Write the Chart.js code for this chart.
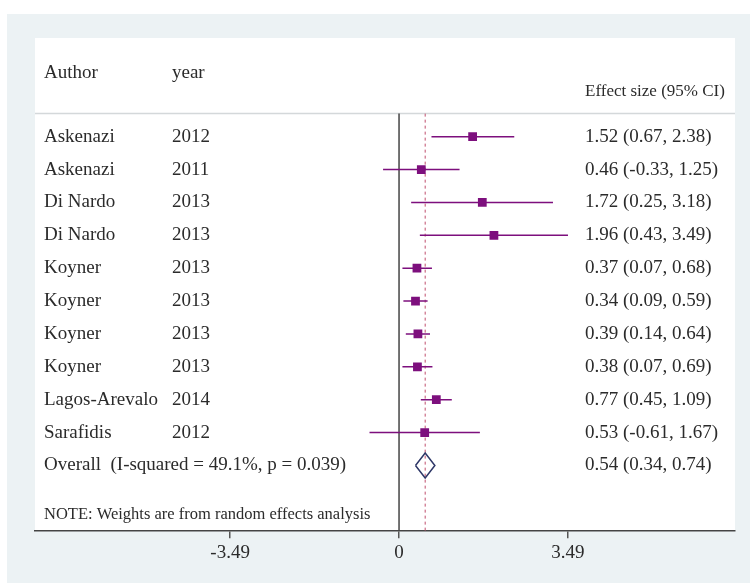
<!DOCTYPE html>
<html>
<head>
<meta charset="utf-8">
<title>Forest plot</title>
<script src="https://cdn.jsdelivr.net/npm/chart.js@4"></script>
<style>
  html, body { margin: 0; padding: 0; background: #fff; }
  #wrap { width: 750px; height: 583px; }
</style>
</head>
<body>
<div id="wrap"><canvas id="forest" width="750" height="583"></canvas></div>
<script>
// Study data
const authors = ['Askenazi', 'Askenazi', 'Di Nardo', 'Di Nardo', 'Koyner', 'Koyner', 'Koyner', 'Koyner', 'Lagos-Arevalo', 'Sarafidis'];
const years = ['2012', '2011', '2013', '2013', '2013', '2013', '2013', '2013', '2014', '2012'];
const effects = [1.52, 0.46, 1.72, 1.96, 0.37, 0.34, 0.39, 0.38, 0.77, 0.53];
const lower = [0.67, -0.33, 0.25, 0.43, 0.07, 0.09, 0.14, 0.07, 0.45, -0.61];
const upper = [2.38, 1.25, 3.18, 3.49, 0.68, 0.59, 0.64, 0.69, 1.09, 1.67];

const overallLabel = 'Overall  (I-squared = 49.1%, p = 0.039)';
const overallEffect = 0.54;
const overallLower = 0.34;
const overallUpper = 0.74;

const tickValues = [-3.49, 0, 3.49];
const tickLabels = ['-3.49', '0', '3.49'];

const noteText = 'NOTE: Weights are from random effects analysis';

// colours
const PURPLE = '#7d0f7d';
const TEXT = '#2b2b2b';
const SERIF = '"Liberation Serif", "DejaVu Serif", serif';

const overallRow = authors.length;   // row index of the overall estimate
const X_MIN = -7.52, X_MAX = 6.94;   // axis runs the full width of the panel
const Y_TOP = -0.7;                  // header rule

function fmt(v) {
    return v.toFixed(2);
}

/**
 * Draws the panel backgrounds and the text columns
 */
const forestText = {
    id: 'forestText',
    beforeDraw(chart) {
        const ctx = chart.ctx;
        const area = chart.chartArea;
        ctx.save();
        ctx.fillStyle = '#ffffff';
        ctx.fillRect(0, 0, chart.width, chart.height);
        ctx.fillStyle = '#ecf2f4';
        ctx.fillRect(7, 14, chart.width - 7, chart.height - 14);
        ctx.fillStyle = '#ffffff';
        ctx.fillRect(area.left, area.top, area.right - area.left, area.bottom - area.top);
        ctx.restore();
    },
    afterDraw(chart) {
        const ctx = chart.ctx;
        const ys = chart.scales.y;
        ctx.save();
        ctx.fillStyle = TEXT;
        ctx.textBaseline = 'middle';
        ctx.textAlign = 'left';

        // header
        ctx.font = '19px ' + SERIF;
        ctx.fillText('Author', 44, ys.getPixelForValue(-1.95));
        ctx.fillText('year', 172, ys.getPixelForValue(-1.95));
        ctx.font = '17px ' + SERIF;
        ctx.fillText('Effect size (95% CI)', 585, ys.getPixelForValue(-1.37));

        // study rows
        ctx.font = '19px ' + SERIF;
        authors.forEach((a, i) => {
            const y = ys.getPixelForValue(i);
            ctx.fillText(a, 44, y);
            ctx.fillText(years[i], 172, y);
            ctx.fillText(fmt(effects[i]) + ' (' + fmt(lower[i]) + ', ' + fmt(upper[i]) + ')', 585, y);
        });

        // overall row
        const yo = ys.getPixelForValue(overallRow);
        ctx.fillText(overallLabel, 44, yo);
        ctx.fillText(fmt(overallEffect) + ' (' + fmt(overallLower) + ', ' + fmt(overallUpper) + ')', 585, yo);

        // note
        ctx.font = '16.5px ' + SERIF;
        ctx.fillText(noteText, 44, ys.getPixelForValue(11.5));
        ctx.restore();
    }
};

// confidence interval lines, one dataset per study
const ciSets = authors.map((a, i) => ({
    type: 'scatter',
    label: a + ' ' + years[i],
    data: [{ x: lower[i], y: i }, { x: upper[i], y: i }],
    showLine: true,
    borderColor: PURPLE,
    borderWidth: 1.5,
    pointRadius: 0,
    order: 3
}));

const datasets = [
    {
        // study point estimates
        type: 'scatter',
        label: 'estimate',
        data: effects.map((e, i) => ({ x: e, y: i })),
        pointStyle: 'rect',
        pointRadius: 6.2,
        backgroundColor: PURPLE,
        borderColor: PURPLE,
        borderWidth: 0,
        order: 1
    },
    {
        // pooled estimate diamond
        type: 'scatter',
        label: 'overall',
        data: [
            { x: overallLower, y: overallRow },
            { x: overallEffect, y: overallRow - 0.38 },
            { x: overallUpper, y: overallRow },
            { x: overallEffect, y: overallRow + 0.38 },
            { x: overallLower, y: overallRow }
        ],
        showLine: true,
        borderColor: '#2f3868',
        borderWidth: 1.5,
        pointRadius: 0,
        order: 2
    },
    ...ciSets,
    {
        // overall effect reference line
        type: 'scatter',
        label: 'overall line',
        data: [{ x: overallEffect, y: Y_TOP }, { x: overallEffect, y: 12 }],
        showLine: true,
        borderColor: '#c0506e',
        borderWidth: 1,
        borderDash: [3, 3],
        pointRadius: 0,
        order: 4
    },
    {
        // null effect line
        type: 'scatter',
        label: 'zero',
        data: [{ x: 0, y: Y_TOP }, { x: 0, y: 12 }],
        showLine: true,
        borderColor: '#444444',
        borderWidth: 1.5,
        pointRadius: 0,
        order: 5
    },
    {
        // header rule
        type: 'scatter',
        label: 'rule',
        data: [{ x: X_MIN, y: Y_TOP }, { x: X_MAX, y: Y_TOP }],
        showLine: true,
        borderColor: '#d4d8da',
        borderWidth: 1.5,
        pointRadius: 0,
        order: 6
    }
];

new Chart(document.getElementById('forest'), {
    type: 'scatter',
    data: { datasets: datasets },
    options: {
        responsive: false,
        animation: false,
        events: [],
        layout: { padding: { left: 35, right: 15, top: 38, bottom: 16 } },
        plugins: {
            legend: { display: false },
            tooltip: { enabled: false }
        },
        scales: {
            x: {
                type: 'linear',
                min: X_MIN,
                max: X_MAX,
                afterBuildTicks: (scale) => {
                    scale.ticks = tickValues.map(v => ({ value: v }));
                },
                ticks: {
                    autoSkip: false,
                    maxRotation: 0,
                    padding: 3,
                    color: TEXT,
                    font: { family: SERIF, size: 19 },
                    callback: (v) => tickLabels[tickValues.indexOf(v)]
                },
                grid: {
                    drawOnChartArea: false,
                    drawTicks: true,
                    tickLength: 7,
                    color: '#555555',
                    lineWidth: 1.5
                },
                border: { display: true, color: '#444444', width: 1.5 }
            },
            y: {
                type: 'linear',
                display: false,
                reverse: true,
                min: -3,
                max: 12
            }
        }
    },
    plugins: [forestText]
});
</script>
</body>
</html>
